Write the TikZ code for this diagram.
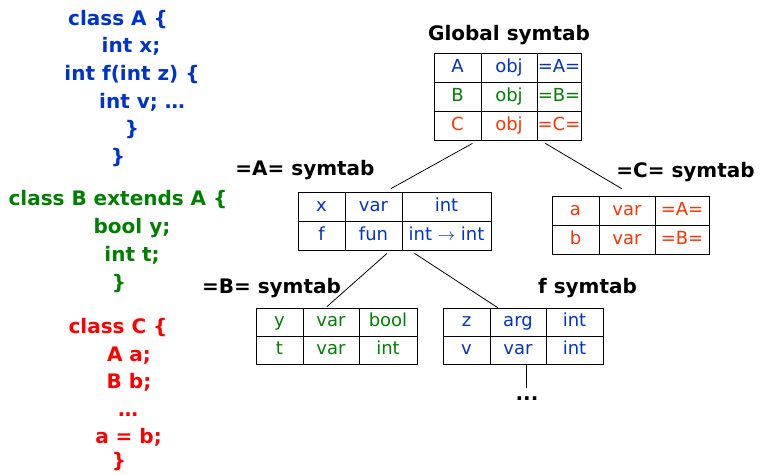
\documentclass[tikz,border=0pt]{standalone}
\usepackage{fontspec}
\setmainfont{DejaVu Sans}
\usepackage{tikz}
\usetikzlibrary{positioning}

\definecolor{srcblue}{RGB}{0,51,204}
\definecolor{srcgreen}{RGB}{0,128,0}
\definecolor{srcred}{RGB}{255,0,0}
\definecolor{tabred}{RGB}{255,51,0}
\newcommand{\cellfont}{\fontsize{18}{21}\selectfont}
\newcommand{\srcfont}{\fontsize{20}{24}\selectfont\bfseries}
\newcommand{\headfont}{\fontsize{20}{24}\selectfont\bfseries}

\begin{document}
\begin{tikzpicture}[x=1pt, y=-1pt,
    cell/.style={draw=black, line width=0.8pt, inner sep=0pt, minimum height=29pt, text height=13pt, text depth=3.5pt, font=\cellfont},
    lowcell/.style={cell, minimum height=28pt},
    head/.style={anchor=base, font=\headfont},
    src/.style={anchor=base, font=\srcfont},
    link/.style={line width=0.8pt}]
\useasboundingbox (0,0) rectangle (760,474);
% source code
\node[src, srcblue] (a1) at (118,25) {class A \{};
\node[src, srcblue] (a2) at (131,52) {int x;};
\node[src, srcblue] (a3) at (132,80) {int f(int z) \{};
\node[src, srcblue] (a4) at (142,108) {int v; …};
\node[src, srcblue] (a5) at (132,135) {\}};
\node[src, srcblue] (a6) at (118,163) {\}};
\node[src, srcgreen] (b1) at (118,205) {class B extends A \{};
\node[src, srcgreen] (b2) at (132,233) {bool y;};
\node[src, srcgreen] (b3) at (132,261) {int t;};
\node[src, srcgreen] (b4) at (119,289) {\}};
\node[src, srcred] (c1) at (118,333) {class C \{};
\node[src, srcred] (c2) at (129,361) {A a;};
\node[src, srcred] (c3) at (129,388) {B b;};
\node[src, srcred] (c4) at (128,416) {…};
\node[src, srcred] (c5) at (128.5,443) {a = b;};
\node[src, srcred] (c6) at (119,467) {\}};
% global symtab
\node[head] (ghead) at (509,40) {Global symtab};
\node[cell, text=srcblue, minimum width=47pt] (g11) at (457.5,67.5) {A};
\node[cell, text=srcblue, minimum width=56pt] (g12) at (509,67.5) {obj};
\node[cell, text=srcblue, minimum width=44pt] (g13) at (559,67.5) {=A=};
\node[cell, text=srcgreen, minimum width=47pt] (g21) at (457.5,96.5) {B};
\node[cell, text=srcgreen, minimum width=56pt] (g22) at (509,96.5) {obj};
\node[cell, text=srcgreen, minimum width=44pt] (g23) at (559,96.5) {=B=};
\node[cell, text=tabred, minimum width=47pt] (g31) at (457.5,125.5) {C};
\node[cell, text=tabred, minimum width=56pt] (g32) at (509,125.5) {obj};
\node[cell, text=tabred, minimum width=44pt] (g33) at (559,125.5) {=C=};
% =A= symtab
\node[head] (ahead) at (305,175) {=A= symtab};
\node[cell, text=srcblue, minimum width=47pt] (a11) at (321.5,206.5) {x};
\node[cell, text=srcblue, minimum width=57pt] (a12) at (373.5,206.5) {var};
\node[cell, text=srcblue, minimum width=89pt] (a13) at (446.5,206.5) {int};
\node[cell, text=srcblue, minimum width=47pt] (a21) at (321.5,235.5) {f};
\node[cell, text=srcblue, minimum width=57pt] (a22) at (373.5,235.5) {fun};
\node[cell, text=srcblue, minimum width=89pt] (a23) at (446.5,235.5) {int $\rightarrow$ int};
% =C= symtab
\node[head] (chead) at (685.5,177) {=C= symtab};
\node[cell, text=tabred, minimum width=47pt] (c11) at (575.5,210.5) {a};
\node[cell, text=tabred, minimum width=56pt] (c12) at (627,210.5) {var};
\node[cell, text=tabred, minimum width=54pt] (c13) at (682,210.5) {=A=};
\node[cell, text=tabred, minimum width=47pt] (c21) at (575.5,239.5) {b};
\node[cell, text=tabred, minimum width=56pt] (c22) at (627,239.5) {var};
\node[cell, text=tabred, minimum width=54pt] (c23) at (682,239.5) {=B=};
% =B= symtab
\node[head] (bhead) at (271.5,293) {=B= symtab};
\node[lowcell, text=srcgreen, minimum width=47pt] (b11) at (279.5,322) {y};
\node[lowcell, text=srcgreen, minimum width=56pt] (b12) at (331,322) {var};
\node[lowcell, text=srcgreen, minimum width=58pt] (b13) at (388,322) {bool};
\node[lowcell, text=srcgreen, minimum width=47pt] (b21) at (279.5,350) {t};
\node[lowcell, text=srcgreen, minimum width=56pt] (b22) at (331,350) {var};
\node[lowcell, text=srcgreen, minimum width=58pt] (b23) at (388,350) {int};
% f symtab
\node[head] (fhead) at (587.5,293) {f symtab};
\node[lowcell, text=srcblue, minimum width=47pt] (f11) at (466.5,322) {z};
\node[lowcell, text=srcblue, minimum width=56pt] (f12) at (518,322) {arg};
\node[lowcell, text=srcblue, minimum width=57pt] (f13) at (574.5,322) {int};
\node[lowcell, text=srcblue, minimum width=47pt] (f21) at (466.5,350) {v};
\node[lowcell, text=srcblue, minimum width=56pt] (f22) at (518,350) {var};
\node[lowcell, text=srcblue, minimum width=57pt] (f23) at (574.5,350) {int};
\node[head, inner sep=0pt] (fmore) at (527,400) {...};
% links
\draw[link] ([shift={(-9,3)}]g31.south east) -- ([shift={(17.5,-3)}]a12.north);
\draw[link] ([shift={(8,3)}]g32.south east) -- ([shift={(23,-7)}]c12.north west);
\draw[link] ([shift={(13.5,3)}]a22.south) -- ([shift={(-4,-1)}]b12.north);
\draw[link] ([shift={(13,3)}]a23.south west) -- ([shift={(8,0)}]f12.north west);
\draw[link] ([shift={(8,0)}]f22.south) -- ([shift={(-1,-8)}]fmore.north);
\end{tikzpicture}
\end{document}
